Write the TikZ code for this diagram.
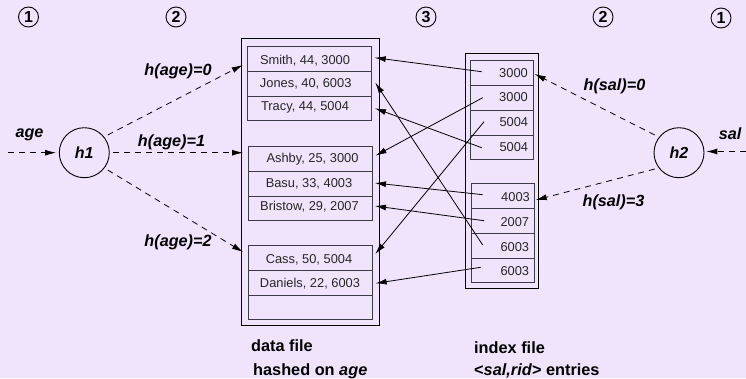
\documentclass[tikz,border=0pt]{standalone}
\usepackage{fontspec}
\setmainfont{Liberation Sans}
\usetikzlibrary{arrows.meta,positioning}
\definecolor{bgc}{HTML}{F0E4FC}
\definecolor{rowc}{HTML}{3C3C46}
\tikzset{
  x=1pt,y=-1pt,
  outerbox/.style={draw=black,line width=1pt},
  rowbox/.style={draw=rowc,line width=1pt,fill=none},
  rowtxt/.style={inner sep=0pt,font=\fontsize{12.85}{14}\selectfont,text=black!85},
  hashc/.style={circle,draw=black,line width=0.9pt,minimum size=50pt,inner sep=0pt,font=\fontsize{16}{17}\selectfont\bfseries\itshape},
  stepc/.style={circle,draw=black,line width=0.9pt,minimum size=20pt,inner sep=0pt,font=\fontsize{16}{16}\selectfont\bfseries},
  lab/.style={inner sep=0pt,font=\fontsize{16.2}{17}\selectfont\bfseries\itshape},
  captxt/.style={inner sep=0pt,anchor=base west,font=\fontsize{16.3}{16}\selectfont\bfseries},
  dashlink/.style={draw=black,line width=0.8pt,dash pattern=on 6pt off 5pt,-{Latex[length=11pt,width=6pt]}},
  solidlink/.style={draw=black,line width=0.8pt,-{Latex[length=11pt,width=6pt]}},
}
\newcommand{\rowrect}[5]{\node[rowbox,anchor=north west,minimum width=#4pt-#2pt,minimum height=#5pt-#3pt,inner sep=0pt] (#1) at (#2,#3) {};}
\begin{document}
\begin{tikzpicture}
\useasboundingbox[fill=bgc] (0,0) rectangle (746,378);
% step markers
\node[stepc] (s1) at (28.5,17) {1};
\node[stepc] (s2) at (176,17) {2};
\node[stepc] (s3) at (426,17) {3};
\node[stepc] (s4) at (603,17) {2};
\node[stepc] (s5) at (721,18) {1};
% data file
\node[outerbox,anchor=north west,minimum width=138pt,minimum height=287pt,inner sep=0pt] (dfile) at (240.5,38) {};
\rowrect{d1}{246.5}{45.5}{371}{70.5}
\rowrect{d2}{246.5}{70.5}{371}{95.5}
\rowrect{d3}{246.5}{95.5}{371}{120}
\rowrect{d4}{247.5}{145.5}{372}{171}
\rowrect{d5}{247.5}{171}{372}{195.5}
\rowrect{d6}{247.5}{195.5}{372}{220}
\rowrect{d7}{247.5}{245}{372}{270}
\rowrect{d8}{247.5}{270}{372}{295}
\rowrect{d9}{247.5}{295}{372}{319}
\node[rowtxt] (td1) at (305,60.5) {Smith, 44, 3000};
\node[rowtxt] (td2) at (305.7,84) {Jones, 40, 6003};
\node[rowtxt] (td3) at (305,107.5) {Tracy, 44, 5004};
\node[rowtxt] (td4) at (312.5,159.5) {Ashby, 25, 3000};
\node[rowtxt] (td5) at (309,183.5) {Basu, 33, 4003};
\node[rowtxt] (td6) at (309.5,206.5) {Bristow, 29, 2007};
\node[rowtxt] (td7) at (309,259.5) {Cass, 50, 5004};
\node[rowtxt] (td8) at (310,283.5) {Daniels, 22, 6003};
% index file
\node[outerbox,anchor=north west,minimum width=73.5pt,minimum height=235.3pt,inner sep=0pt] (ifile) at (464.5,52.7) {};
\rowrect{i1}{470}{59.5}{532.7}{84.5}
\rowrect{i2}{470}{84.5}{532.7}{109.5}
\rowrect{i3}{470}{109.5}{532.7}{134.5}
\rowrect{i4}{470}{134.5}{532.7}{159.3}
\rowrect{i5}{471}{183}{533.7}{208.3}
\rowrect{i6}{471}{208.3}{533.7}{233}
\rowrect{i7}{471}{233}{533.7}{257.7}
\rowrect{i8}{471}{257.7}{533.7}{282.3}
\node[rowtxt] (ti1) at (513.5,73.5) {3000};
\node[rowtxt] (ti2) at (513.5,97.5) {3000};
\node[rowtxt] (ti3) at (513.8,122.5) {5004};
\node[rowtxt] (ti4) at (513.8,147.5) {5004};
\node[rowtxt] (ti5) at (515.5,197.5) {4003};
\node[rowtxt] (ti6) at (514.8,222.5) {2007};
\node[rowtxt] (ti7) at (514.8,247.5) {6003};
\node[rowtxt] (ti8) at (514.8,271.5) {6003};
% hash functions
\node[hashc] (h1) at (84.3,152.7) {h1};
\node[hashc] (h2) at (679,152.7) {h2};
% free ends
\coordinate (agein) at (8,152.7);
\coordinate (salin) at (746,151.5);
\coordinate (h1a) at (107.7,135);
\coordinate (h1b) at (113,152.7);
\coordinate (h1c) at (107.7,170);
\coordinate (t0) at (242.7,65);
\coordinate (t1) at (243,152.7);
\coordinate (t2) at (243,252);
\coordinate (h2a) at (654.7,135);
\coordinate (h2b) at (654.7,169);
\coordinate (t3) at (534.7,74);
\coordinate (t4) at (535.7,200);
\coordinate (h2in) at (706.3,151.5);
\coordinate (h1in) at (56,152.7);
\draw[dashlink] (agein) -- (h1in);
\draw[dashlink] (salin) -- (h2in);
\draw[dashlink] (h1a) -- (t0);
\draw[dashlink] (h1b) -- (t1);
\draw[dashlink] (h1c) -- (t2);
\draw[dashlink] (h2a) -- (t3);
\draw[dashlink] (h2b) -- (t4);
% rid pointers
\coordinate (a1) at (481.7,71.7);  \coordinate (b1) at (374.7,57.7);
\coordinate (a2) at (482.7,97.7);  \coordinate (b2) at (375.5,155.7);
\coordinate (a3) at (484,121.7);   \coordinate (b3) at (375.3,254);
\coordinate (a4) at (481.7,147.7); \coordinate (b4) at (375,108.3);
\coordinate (a5) at (482.7,194.7); \coordinate (b5) at (375,183);
\coordinate (a6) at (484,220.7);   \coordinate (b6) at (375,206);
\coordinate (a7) at (482.7,245);   \coordinate (b7) at (375.3,82.7);
\coordinate (a8) at (480.7,267.3); \coordinate (b8) at (375.6,283.3);
\foreach \k in {1,...,8} {\draw[solidlink] (a\k) -- (b\k);}
% labels
\node[lab] (l0) at (178,71.5) {h(age)=0};
\node[lab] (l1) at (171.5,142) {h(age)=1};
\node[lab] (l2) at (178,242) {h(age)=2};
\node[lab] (l3) at (614.5,86) {h(sal)=0};
\node[lab] (l4) at (613.5,202.5) {h(sal)=3};
\node[lab] (l5) at (29.5,135) {age};
\node[lab] (l6) at (730,134) {sal};
\node[captxt] (c1) at (251,351) {data file};
\node[captxt] (c2) at (253,375) {hashed on \textit{age}};
\node[captxt] (c3) at (474,353) {index file};
\node[captxt] (c4) at (474,375) {<\textit{sal,rid}> entries};
\end{tikzpicture}
\end{document}
